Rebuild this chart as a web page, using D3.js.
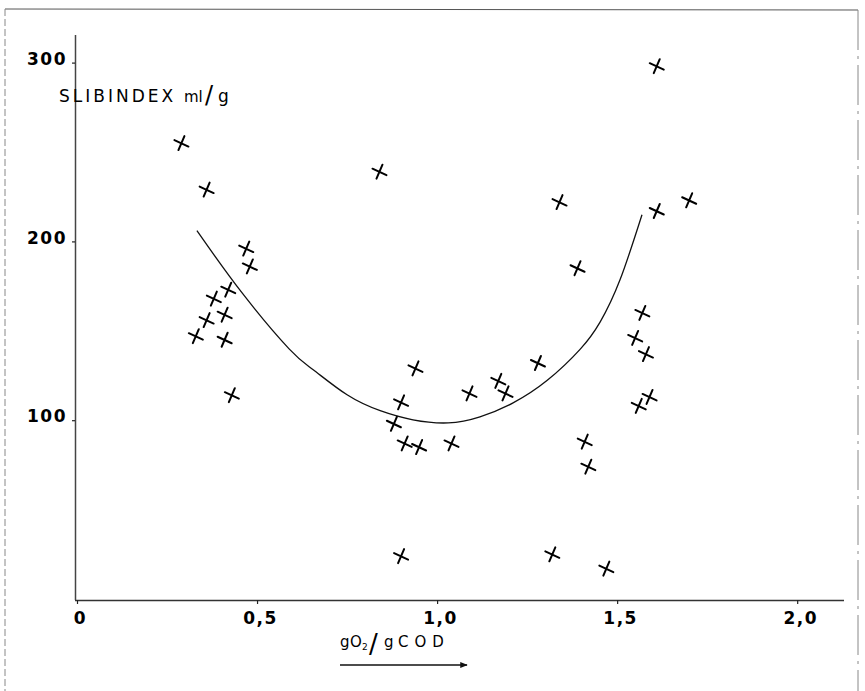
<!DOCTYPE html>
<html>
<head>
<meta charset="utf-8">
<script src="https://cdn.jsdelivr.net/npm/d3@7"></script>
<style>
  html, body { margin: 0; padding: 0; background: #fff; }
  svg { display: block; }
</style>
</head>
<body>
<div id="chart"></div>
<script>
// measured points: g O2 / g COD against sludge index (ml/g)
const oxygenLoad = [
  0.29, 0.36, 0.47, 0.48, 0.42, 0.38, 0.41, 0.36, 0.33, 0.41, 0.43,
  0.84, 0.94, 0.90, 0.88, 0.91, 0.95, 1.04, 1.09, 1.17, 1.19, 1.28,
  0.90, 1.32, 1.34, 1.39, 1.41, 1.42, 1.47, 1.61, 1.61, 1.70,
  1.57, 1.55, 1.58, 1.59, 1.56
];
const sludgeIndex = [
  255, 229, 196, 186, 173, 168, 159, 156, 147, 145, 114,
  239, 129, 110, 98, 87, 85, 87, 115, 122, 115, 132,
  24, 25, 222, 185, 88, 74, 17, 298, 217, 223,
  160, 146, 137, 113, 108
];

// hand drawn trend curve
const curveX = [0.333, 0.458, 0.589, 0.656, 0.75, 0.842, 0.933, 1.031, 1.119, 1.211, 1.306, 1.397, 1.453, 1.508, 1.569];
const curveY = [206, 171.3, 139.9, 128.2, 114.2, 105.3, 100.2, 98.5, 101.9, 109.7, 122.3, 139.6, 155, 178.5, 214.9];

const xTicks = [0, 0.5, 1, 1.5, 2];
const xTickLabels = ['0', '0,5', '1,0', '1,5', '2,0'];
const yTicks = [100, 200, 300];
const yTickLabels = ['100', '200', '300'];

const width = 865;
const height = 691;

const svg = d3.select('#chart')
  .append('svg')
  .attr('width', width)
  .attr('height', height);

const x = d3.scaleLinear().domain([0, 2.13]).range([77, 844]);
const y = d3.scaleLinear().domain([0, 316]).range([599, 34]);

// scan frame
const frame = svg.append('g').attr('fill', 'none');
frame.append('line')
  .attr('x1', 5).attr('y1', 9).attr('x2', 858).attr('y2', 10)
  .attr('stroke', '#555').attr('stroke-width', 1);
frame.append('line')
  .attr('x1', 5).attr('y1', 9).attr('x2', 5).attr('y2', 691)
  .attr('stroke', '#888').attr('stroke-width', 1)
  .attr('stroke-dasharray', '7,3');
frame.append('line')
  .attr('x1', 858).attr('y1', 10).attr('x2', 858).attr('y2', 691)
  .attr('stroke', '#888').attr('stroke-width', 1)
  .attr('stroke-dasharray', '40,6,3,6');

// axes
const xAxis = svg.append('g')
  .attr('transform', 'translate(0,600)')
  .call(d3.axisBottom(x)
    .tickValues(xTicks)
    .tickFormat((d, i) => xTickLabels[i])
    .tickSize(4)
    .tickPadding(8));

const yAxis = svg.append('g')
  .attr('transform', 'translate(75,0)')
  .call(d3.axisLeft(y)
    .tickValues(yTicks)
    .tickFormat((d, i) => yTickLabels[i])
    .tickSize(3)
    .tickPadding(5));

xAxis.select('.domain').attr('d', 'M75,0.5H844').attr('stroke', '#333').attr('stroke-width', 1.5);
yAxis.select('.domain').attr('d', 'M0.5,35V600').attr('stroke', '#444').attr('stroke-width', 1.5);

[xAxis, yAxis].forEach(ax => {
  ax.selectAll('.tick line').attr('stroke', '#222').attr('stroke-width', 1.2);
  ax.selectAll('.tick text')
    .attr('fill', '#000')
    .style('font-family', '"DejaVu Sans", sans-serif')
    .style('font-weight', 'bold')
    .style('font-size', '17px')
    .style('letter-spacing', '1.5px');
});
xAxis.selectAll('.tick text').attr('dx', 3);
yAxis.selectAll('.tick text').attr('dy', '0.1em');

// y title
const yTitle = svg.append('text')
  .attr('y', 102)
  .attr('fill', '#000')
  .style('font-family', '"DejaVu Sans", sans-serif')
  .style('font-size', '17px');
yTitle.append('tspan').attr('x', 59).style('letter-spacing', '3px').text('SLIBINDEX');
yTitle.append('tspan').attr('x', 184).style('font-size', '15px').text('ml');
yTitle.append('tspan').attr('x', 205).attr('dy', 1).style('font-size', '24px').text('/');
yTitle.append('tspan').attr('x', 218).attr('dy', -1).text('g');

// x title
const xTitle = svg.append('text')
  .attr('y', 647)
  .attr('fill', '#000')
  .style('font-family', '"DejaVu Sans", sans-serif')
  .style('font-size', '15px');
xTitle.append('tspan').attr('x', 340).text('g');
xTitle.append('tspan').attr('x', 350).text('O');
xTitle.append('tspan').attr('x', 362).attr('dy', 3).style('font-size', '9px').text('2');
xTitle.append('tspan').attr('x', 369).attr('dy', 3).style('font-size', '26px').text('/');
xTitle.append('tspan').attr('x', 384).attr('dy', -6).text('g');
xTitle.append('tspan').attr('x', 398).style('letter-spacing', '6px').text('COD');

// arrow under the x title
svg.append('defs').append('marker')
  .attr('id', 'arrow')
  .attr('viewBox', '0 0 10 10')
  .attr('refX', 9).attr('refY', 5)
  .attr('markerWidth', 7).attr('markerHeight', 5)
  .attr('orient', 'auto')
  .append('path')
  .attr('d', 'M0,1L10,5L0,9Z')
  .attr('fill', '#111');

svg.append('line')
  .attr('x1', 340).attr('y1', 665)
  .attr('x2', 467).attr('y2', 665)
  .attr('stroke', '#111')
  .attr('stroke-width', 1.5)
  .attr('marker-end', 'url(#arrow)');

// trend curve
const line = d3.line()
  .x((d, i) => x(curveX[i]))
  .y(d => y(d))
  .curve(d3.curveNatural);

svg.append('path')
  .datum(curveY)
  .attr('d', line)
  .attr('fill', 'none')
  .attr('stroke', '#111')
  .attr('stroke-width', 1.3);

// crosses
const crossPath = 'M-7,-3L7,3.5M3,-7L-3,7';
svg.append('g')
  .selectAll('path')
  .data(oxygenLoad.map((v, i) => ({ x: v, y: sludgeIndex[i] })))
  .join('path')
  .attr('transform', d => `translate(${x(d.x)},${y(d.y)})`)
  .attr('d', crossPath)
  .attr('fill', 'none')
  .attr('stroke', '#000')
  .attr('stroke-width', 2)
  .attr('stroke-linecap', 'round');
</script>
</body>
</html>
